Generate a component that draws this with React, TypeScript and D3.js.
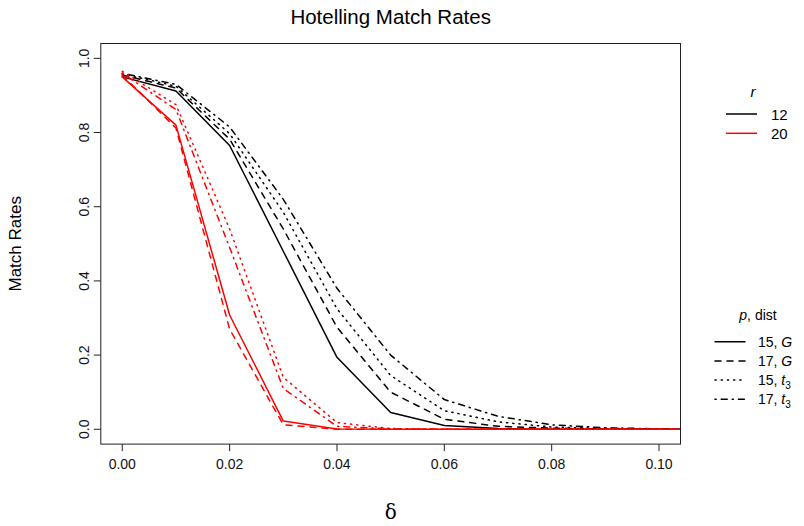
import React from "react";
import * as d3 from "d3";

const deltas = [0, 0.01, 0.02, 0.03, 0.04, 0.05, 0.06, 0.07, 0.08, 0.09, 0.1, 0.11, 0.12];

const r12_p15_G = [0.95, 0.912, 0.765, 0.48, 0.194, 0.045, 0.01, 0.002, 0, 0, 0, 0, 0];
const r12_p17_G = [0.955, 0.92, 0.782, 0.54, 0.275, 0.1, 0.027, 0.008, 0.003, 0.001, 0, 0, 0];
const r12_p15_t3 = [0.958, 0.925, 0.797, 0.585, 0.325, 0.145, 0.05, 0.02, 0.006, 0.002, 0.001, 0, 0];
const r12_p17_t3 = [0.96, 0.93, 0.815, 0.62, 0.38, 0.2, 0.08, 0.035, 0.012, 0.004, 0.001, 0, 0];
const r20_p15_G = [0.95, 0.82, 0.308, 0.022, 0.001, 0, 0, 0, 0, 0, 0, 0, 0];
const r20_p17_G = [0.955, 0.812, 0.27, 0.012, 0, 0, 0, 0, 0, 0, 0, 0, 0];
const r20_p15_t3 = [0.965, 0.875, 0.54, 0.14, 0.018, 0.002, 0, 0, 0, 0, 0, 0, 0];
const r20_p17_t3 = [0.96, 0.862, 0.49, 0.11, 0.008, 0.001, 0, 0, 0, 0, 0, 0, 0];

const xTicks = [0, 0.02, 0.04, 0.06, 0.08, 0.1];
const yTicks = [0, 0.2, 0.4, 0.6, 0.8, 1.0];

const rLevels = ["12", "20"];
const rColors = ["#000000", "#ff0000"];
const pdLabels = [
  { p: "15", d: "G" },
  { p: "17", d: "G" },
  { p: "15", d: "t" },
  { p: "17", d: "t" },
];

const LW = 1.5;
const dashes = ["none", "6,6", "1.2,5", "1.2,5,6,5"];

const series = [
  { r: 0, s: 0, v: r12_p15_G },
  { r: 0, s: 1, v: r12_p17_G },
  { r: 0, s: 2, v: r12_p15_t3 },
  { r: 0, s: 3, v: r12_p17_t3 },
  { r: 1, s: 0, v: r20_p15_G },
  { r: 1, s: 1, v: r20_p17_G },
  { r: 1, s: 2, v: r20_p15_t3 },
  { r: 1, s: 3, v: r20_p17_t3 },
];

export default function App() {
  const W = 804;
  const H = 526;
  const x = d3.scaleLinear().domain([-0.004, 0.104]).range([100.8, 680.5]);
  const y = d3.scaleLinear().domain([-0.04, 1.04]).range([444.1, 43.5]);
  const [x0, x1] = x.range();
  const [y0, y1] = [y.range()[1], y.range()[0]];
  const line = d3
    .line<number>()
    .x((_, i) => x(deltas[i]))
    .y((d) => y(d));
  const font = "'Liberation Sans', Arial, Helvetica, sans-serif";
  const tickLen = 7;

  return (
    <svg
      width={W}
      height={H}
      style={{ position: "absolute", left: 0, top: 0, background: "#fff" }}
      fontFamily={font}
    >
      <rect x={0} y={0} width={W} height={H} fill="#fff" />
      <defs>
        <clipPath id="plotclip">
          <rect x={x0} y={y0} width={x1 - x0} height={y1 - y0} />
        </clipPath>
      </defs>
      <g clipPath="url(#plotclip)">
        {series.map((s, i) => (
          <path
            key={i}
            d={line(s.v) || ""}
            fill="none"
            stroke={rColors[s.r]}
            strokeWidth={LW}
            strokeDasharray={dashes[s.s]}
            strokeLinecap="round"
            strokeLinejoin="round"
          />
        ))}
      </g>
      <rect x={x0} y={y0} width={x1 - x0} height={y1 - y0} fill="none" stroke="#222" strokeWidth={1} />
      {xTicks.map((t) => (
        <g key={"x" + t}>
          <line x1={x(t)} x2={x(t)} y1={y1} y2={y1 + tickLen} stroke="#222" />
          <text x={x(t)} y={y1 + 25} fontSize={14} textAnchor="middle" fill="#111">
            {t.toFixed(2)}
          </text>
        </g>
      ))}
      {yTicks.map((t) => (
        <g key={"y" + t}>
          <line x1={x0} x2={x0 - tickLen} y1={y(t)} y2={y(t)} stroke="#222" />
          <text
            transform={`translate(${x0 - 12},${y(t)}) rotate(-90)`}
            fontSize={14}
            textAnchor="middle"
            fill="#111"
          >
            {t.toFixed(1)}
          </text>
        </g>
      ))}
      <text x={(x0 + x1) / 2} y={24} fontSize={20.5} textAnchor="middle" fill="#000">
        Hotelling Match Rates
      </text>
      <text
        transform={`translate(21,${(y0 + y1) / 2}) rotate(-90)`}
        fontSize={17}
        textAnchor="middle"
        fill="#000"
      >
        Match Rates
      </text>
      <text x={(x0 + x1) / 2} y={519} fontSize={20} textAnchor="middle" fontFamily="'DejaVu Serif', serif" fill="#000">
        δ
      </text>
      <text x={753} y={97} fontSize={15} fontStyle="italic" textAnchor="middle">
        r
      </text>
      {rLevels.map((lv, i) => (
        <g key={lv}>
          <line x1={726} x2={757} y1={114 + i * 19.3} y2={114 + i * 19.3} stroke={rColors[i]} strokeWidth={LW} />
          <text x={771} y={114 + i * 19.3 + 5.5} fontSize={15}>
            {lv}
          </text>
        </g>
      ))}
      <text x={758} y={320} fontSize={14} textAnchor="middle">
        <tspan fontStyle="italic">p</tspan>, dist
      </text>
      {pdLabels.map((lb, i) => {
        const yy = 341.7 + i * 19.2;
        return (
          <g key={i}>
            <line
              x1={715}
              x2={745}
              y1={yy}
              y2={yy}
              stroke="#000"
              strokeWidth={LW}
              strokeDasharray={dashes[i]}
              strokeLinecap="round"
            />
            <text x={758} y={yy + 5} fontSize={14}>
              {lb.p}, <tspan fontStyle="italic">{lb.d}</tspan>
              {lb.d === "t" ? (
                <tspan fontSize={10} dy={4}>
                  3
                </tspan>
              ) : null}
            </text>
          </g>
        );
      })}
    </svg>
  );
}
